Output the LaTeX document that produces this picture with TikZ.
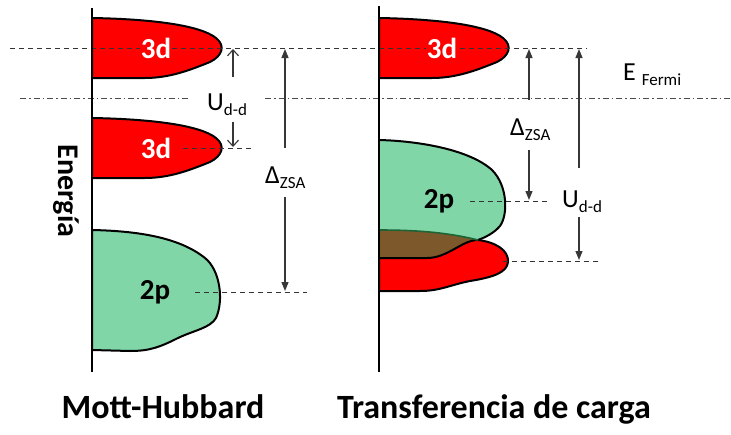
\documentclass[tikz,border=0pt]{standalone}
\usepackage{fontspec}
\setmainfont{Carlito}
\usetikzlibrary{arrows.meta}

\definecolor{bandred}{RGB}{255,0,0}
\definecolor{bandgreen}{RGB}{128,214,166}
\definecolor{bandbrown}{RGB}{124,88,42}
\definecolor{edgegreen}{RGB}{30,100,55}
\definecolor{arrowgray}{RGB}{55,55,55}
\newcommand{\sublow}[1]{\raisebox{-5pt}{\fontsize{17}{17}\selectfont #1}}
\newcommand{\dband}{(0,18) .. controls (58,19) and (108,25) .. (124,38) .. controls (134,46) and (130,56) .. (118,62) .. controls (98,70) and (78,78) .. (53,78) -- (0,78) -- cycle}

\begin{document}
\begin{tikzpicture}[x=1pt,y=-1pt,
  band/.style={draw=black,line width=2pt,line join=round},
  axis/.style={line width=2.6pt},
  level/.style={draw=black!80,line width=0.9pt,dash pattern=on 5pt off 4pt},
  fermi/.style={draw=black!70,line width=0.9pt,dash pattern=on 6pt off 3pt on 1.5pt off 3pt},
  gap/.style={draw=arrowgray,line width=1.3pt,-{Triangle[length=9pt,width=7pt]}},
  hub/.style={draw=arrowgray,line width=1.1pt,-{Straight Barb[length=6pt,width=11pt]}},
  orb/.style={font=\fontsize{29}{29}\selectfont\bfseries,inner sep=1pt},
  lbl/.style={font=\fontsize{26}{26}\selectfont,inner sep=0pt,anchor=base west},
  title/.style={font=\fontsize{34}{34}\selectfont\bfseries,anchor=base}]
\useasboundingbox (0,0) rectangle (731,434);

% Mott-Hubbard bands
\filldraw[band,fill=bandred,shift={(92,0)}] \dband;
\filldraw[band,fill=bandred,shift={(92,100)}] \dband;
\filldraw[band,fill=bandgreen] (92,230) .. controls (140,231) and (180,238) .. (205,258)
  .. controls (220,270) and (224,300) .. (216,318) .. controls (210,328) and (195,330) .. (178,338)
  .. controls (160,347) and (150,351) .. (130,351) -- (92,350) -- cycle;

% charge transfer bands
\filldraw[band,fill=bandred,shift={(379,0)}] \dband;
\fill[bandbrown] (379,230) .. controls (420,230) and (450,233) .. (478,240)
  .. controls (462,240) and (448,258) .. (427,258) -- (379,258) -- cycle;
\filldraw[band,fill=bandred] (379,258) -- (427,258) .. controls (448,258) and (462,240) .. (478,240)
  .. controls (495,242) and (509,250) .. (508,262) .. controls (507,272) and (495,277) .. (470,281)
  .. controls (450,285) and (440,291) .. (420,291) -- (379,291) -- cycle;
\fill[bandgreen] (379,140) .. controls (420,141) and (470,150) .. (492,170)
  .. controls (508,186) and (508,215) .. (500,226) .. controls (494,233) and (486,237) .. (478,240)
  .. controls (450,233) and (420,230) .. (379,230) -- cycle;
\draw[band] (379,140) .. controls (420,141) and (470,150) .. (492,170)
  .. controls (508,186) and (508,215) .. (500,226) .. controls (494,233) and (486,237) .. (478,240);
\draw[edgegreen,line width=1.6pt] (478,240) .. controls (450,233) and (420,230) .. (379,230);

% levels
\coordinate (upA) at (10,48);   \coordinate (upB) at (587,48);
\coordinate (loA) at (183,148); \coordinate (loB) at (253,148);
\coordinate (pA) at (195,292);  \coordinate (pB) at (307,292);
\coordinate (qA) at (470,201);  \coordinate (qB) at (548,201);
\coordinate (rA) at (503,261);  \coordinate (rB) at (600,261);
\coordinate (fA) at (20,98);    \coordinate (fB) at (190,98);
\coordinate (fC) at (265,98);   \coordinate (fD) at (731,98);
\draw[level] (upA) -- (upB);
\draw[level] (loA) -- (loB);
\draw[level] (pA) -- (pB);
\draw[level] (qA) -- (qB);
\draw[level] (rA) -- (rB);
\draw[fermi] (fA) -- (fB);
\draw[fermi] (fC) -- (fD);

% axes
\coordinate (axL1) at (92,8);  \coordinate (axL2) at (92,372);
\coordinate (axR1) at (379,6); \coordinate (axR2) at (379,372);
\draw[axis] (axL1) -- (axL2);
\draw[axis] (axR1) -- (axR2);

% band labels
\node[orb,text=white,fill=bandred] (d1) at (156,48) {3d};
\node[orb,text=white,fill=bandred] (d2) at (156,148) {3d};
\node[orb,fill=bandgreen] (p1) at (155,292) {2p};
\node[orb,text=white,fill=bandred] (d3) at (442,48) {3d};
\node[orb,fill=bandgreen] (p2) at (439,201) {2p};

% gaps
\node[lbl] (uL) at (207,110) {U\sublow{d-d}};
\node[lbl] (zL) at (265,183) {Δ\sublow{ZSA}};
\node[lbl] (zR) at (510,135) {Δ\sublow{ZSA}};
\node[lbl] (uR) at (562,207) {U\sublow{d-d}};
\node[lbl] (ef) at (623,80) {E \sublow{Fermi}};

\coordinate (uL1) at (233,77);  \coordinate (uL2) at (233,49);
\coordinate (uL3) at (233,122); \coordinate (uL4) at (233,147);
\coordinate (zL1) at (285,148); \coordinate (zL2) at (285,49);
\coordinate (zL3) at (285,197); \coordinate (zL4) at (285,291);
\coordinate (zR1) at (529,100); \coordinate (zR2) at (529,49);
\coordinate (zR3) at (529,150); \coordinate (zR4) at (529,200);
\coordinate (uR1) at (579,168); \coordinate (uR2) at (579,49);
\coordinate (uR3) at (579,217); \coordinate (uR4) at (579,260);
\draw[hub] (uL1) -- (uL2);
\draw[hub] (uL3) -- (uL4);
\draw[gap] (zL1) -- (zL2);
\draw[gap] (zL3) -- (zL4);
\draw[gap] (zR1) -- (zR2);
\draw[gap] (zR3) -- (zR4);
\draw[gap] (uR1) -- (uR2);
\draw[gap] (uR3) -- (uR4);

% titles
\node[font=\fontsize{30}{30}\selectfont\bfseries,rotate=-90] (en) at (66,191) {Energía};
\node[title] (mh) at (163,418) {Mott-Hubbard};
\node[title] (tc) at (494,418) {Transferencia de carga};
\end{tikzpicture}
\end{document}
